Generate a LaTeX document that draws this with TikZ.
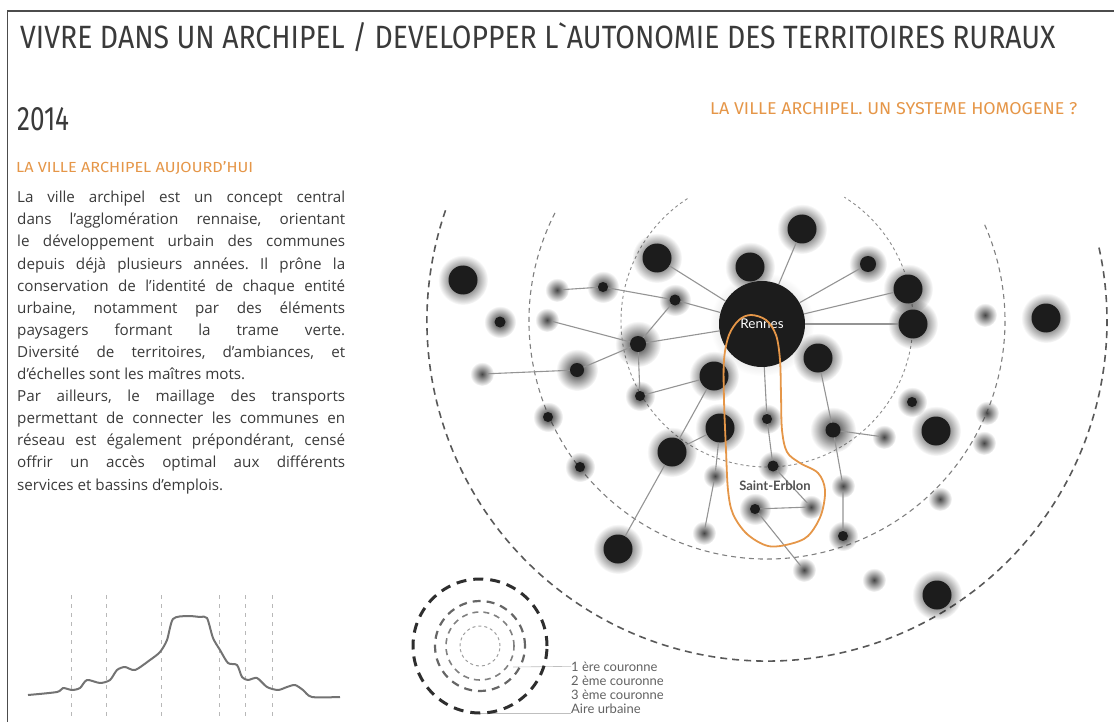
\documentclass[tikz,border=0pt]{standalone}
\usepackage{fontspec}
\usepackage{graphicx}
\setmainfont{Lato}
\newfontfamily\titrefont{Fira Sans}
\newfontfamily\corpsfont{Open Sans}
\usetikzlibrary{fadings,backgrounds}
\definecolor{encre}{RGB}{28,28,28}
\definecolor{orangeville}{RGB}{229,150,72}
\definecolor{texte}{RGB}{58,58,58}
\tikzfading[name=brume, inner color=transparent!0, outer color=transparent!100]
\frenchspacing

\begin{document}
\begin{tikzpicture}[x=1pt,y=-1pt,
  ville/.style={circle,fill=encre,inner sep=0pt,minimum size=86pt,text=white,
                font=\fontsize{13.5}{13.5}\selectfont},
  pole/.style={circle,fill=encre,inner sep=0pt,minimum size=29pt},
  bourg/.style={circle,fill=encre,inner sep=0pt,minimum size=10pt},
  hameau/.style={circle,inner sep=0pt,minimum size=10pt},
  lien/.style={draw=black!42,line width=1.1pt},
  cour1/.style={draw=black!45,line width=0.9pt,dash pattern=on 3pt off 3pt},
  cour2/.style={draw=black!50,line width=1.1pt,dash pattern=on 5pt off 4pt},
  cour3/.style={draw=black!65,line width=1.6pt,dash pattern=on 7pt off 5pt},
  legende/.style={font=\fontsize{13}{13}\selectfont,text=black!62,inner sep=0pt,anchor=base west},
  fil/.style={draw=black!25,line width=0.6pt}
]
\useasboundingbox (0,0) rectangle (1114,722);
% cadre
\draw[black!70,line width=1.5pt] (7.5,722) -- (7.5,11) -- (1114,11);

% titres
\node[anchor=north west,inner sep=0pt,text=texte] (titre) at (20,22)
  {\resizebox{1035pt}{26pt}{\titrefont VIVRE DANS UN ARCHIPEL / DEVELOPPER L\textasciigrave AUTONOMIE DES TERRITOIRES RURAUX}};
\node[anchor=base west,inner sep=0pt,text=texte] (annee) at (17,131)
  {\resizebox{52pt}{23pt}{\titrefont 2014}};
\node[anchor=base west,inner sep=0pt,text=orangeville] (sous) at (16,173)
  {\resizebox{237pt}{11pt}{\titrefont LA VILLE ARCHIPEL AUJOURD’HUI}};
\node[anchor=base west,inner sep=0pt,text=orangeville] (question) at (710,115)
  {\resizebox{367pt}{12pt}{\titrefont LA VILLE ARCHIPEL. UN SYSTEME HOMOGENE ?}};

% texte
\node[anchor=north west,inner sep=0pt,text=texte,align=left,
      font=\corpsfont\fontsize{15.2}{22.1}\selectfont] (corps) at (17,191) {%
\makebox[328pt][s]{La ville archipel est un concept central}\\
\makebox[328pt][s]{dans l’agglomération rennaise, orientant}\\
\makebox[328pt][s]{le développement urbain des communes}\\
\makebox[328pt][s]{depuis déjà plusieurs années. Il prône la}\\
\makebox[328pt][s]{conservation de l’identité de chaque entité}\\
\makebox[328pt][s]{urbaine, notamment par des éléments}\\
\makebox[328pt][s]{paysagers formant la trame verte.}\\
\makebox[328pt][s]{Diversité de territoires, d’ambiances, et}\\
\makebox[328pt][l]{d’échelles sont les maîtres mots.}\\
\makebox[328pt][s]{Par ailleurs, le maillage des transports}\\
\makebox[328pt][s]{permettant de connecter les communes en}\\
\makebox[328pt][s]{réseau est également prépondérant, censé}\\
\makebox[328pt][s]{offrir un accès optimal aux différents}\\
\makebox[328pt][l]{services et bassins d’emplois.}};

% profil
\foreach \x in {71,106,161,219,245,272}
  \draw[black!28,line width=0.8pt,dash pattern=on 4pt off 5pt] (\x,595) -- (\x,717);
\draw[black!55,line width=2pt,line join=round] plot[smooth,tension=0.45] coordinates {
  (28,695) (57,692) (63,688) (72,690) (80,688) (87,680) (100,683) (110,680)
  (117,670) (125,667) (135,670) (150,660) (160,652) (167,640) (173,619)
  (187,616) (200,617) (207,618) (213,638) (220,650) (228,663) (237,665)
  (242,677) (248,680) (257,678) (267,687) (278,690) (287,687) (295,685)
  (303,690) (312,697) (340,697)};

% communes
\node[ville] (rennes) at (762,324) {Rennes};
\node[pole] (b1)  at (463,280) {};
\node[pole] (b2)  at (657,258) {};
\node[pole] (b3)  at (750,267) {};
\node[pole] (b4)  at (802,229) {};
\node[pole] (b5)  at (908,289) {};
\node[pole] (b6)  at (913,324) {};
\node[pole] (b7)  at (1046,318) {};
\node[pole] (b8)  at (818,358) {};
\node[pole] (b9)  at (714,376) {};
\node[pole] (b10) at (720,428) {};
\node[pole] (b11) at (672,452) {};
\node[pole] (b12) at (618,549) {};
\node[pole] (b13) at (936,431) {};
\node[pole] (b14) at (937,595) {};
\node[bourg] (m1)  at (603,287) {};
\node[bourg,minimum size=11pt] (m2)  at (675,300) {};
\node[bourg,minimum size=16pt] (m3)  at (868,264) {};
\node[bourg,minimum size=11pt] (m4)  at (500,322) {};
\node[bourg,minimum size=16pt] (m5)  at (638,344) {};
\node[bourg,minimum size=14pt] (m6)  at (577,370) {};
\node[bourg] (m7)  at (640,396) {};
\node[bourg] (m8)  at (548,417) {};
\node[bourg] (m9)  at (767,419) {};
\node[bourg] (m10) at (580,467) {};
\node[bourg,minimum size=11pt] (m11) at (773,466) {};
\node[bourg] (m12) at (755,509) {};
\node[bourg,minimum size=15pt] (m13) at (833,430) {};
\node[bourg] (m14) at (843,536) {};
\node[bourg] (m15) at (912,402) {};
\node[hameau] (g1)  at (557,290) {};
\node[hameau] (g2)  at (547,320) {};
\node[hameau] (g3)  at (482,374) {};
\node[hameau] (g4)  at (985,315) {};
\node[hameau] (g5)  at (715,476) {};
\node[hameau] (g6)  at (704,533) {};
\node[hameau] (g7)  at (811,507) {};
\node[hameau] (g8)  at (804,570) {};
\node[hameau] (g9)  at (884,437) {};
\node[hameau] (g10) at (843,486) {};
\node[hameau] (g11) at (874,580) {};
\node[hameau] (g12) at (940,499) {};
\node[hameau] (g13) at (987,413) {};
\node[hameau] (g14) at (984,443) {};

% maillage
\draw[lien] (g1) -- (m1) -- (m2) -- (rennes);
\draw[lien] (g2) -- (m5) -- (rennes);
\draw[lien] (g3) -- (m6) -- (m5) -- (m7) -- (b9);
\draw[lien] (m5) -- (m2);
\draw[lien] (b2) -- (rennes);
\draw[lien] (b4) -- (rennes);
\draw[lien] (m3) -- (rennes);
\draw[lien] (b5) -- (rennes);
\draw[lien] (b6) -- (rennes);
\draw[lien] (rennes) -- (m9) -- (m11) -- (g7) -- (m12) -- (g8);
\draw[lien] (b9) -- (b11) -- (b12);
\draw[lien] (b10) -- (b11);
\draw[lien] (b10) -- (g5) -- (g6);
\draw[lien] (b8) -- (m13) -- (g10) -- (m14);
\draw[lien] (m13) -- (g9);

% Saint-Erblon
\draw[orangeville,line width=1.8pt] plot[smooth cycle,tension=0.55] coordinates {
  (751,315) (766,320) (776,335) (780,360) (781,395) (782,430) (787,452)
  (800,463) (818,473) (825,490) (821,515) (808,536) (790,544) (768,546)
  (747,534) (733,514) (728,490) (726,450) (724,400) (724,360) (729,335) (739,320)};
\node[font=\bfseries\fontsize{13}{13}\selectfont,text=black!68,inner sep=0pt,anchor=base]
  (erblon) at (775,490) {Saint-Erblon};

% legende
\coordinate (leg) at (480,646);
\draw[draw=black!82,line width=3pt,dash pattern=on 10pt off 7pt] (leg) circle (67pt);
\draw[draw=black!60,line width=2.2pt,dash pattern=on 8pt off 6pt] (leg) circle (45pt);
\draw[draw=black!50,line width=1.6pt,dash pattern=on 6pt off 5pt] (leg) circle (34pt);
\draw[draw=black!38,line width=1pt,dash pattern=on 3pt off 3pt] (leg) circle (20pt);
\node[legende] (l1) at (571,671) {1 ère couronne};
\node[legende] (l2) at (571,685) {2 ème couronne};
\node[legende] (l3) at (571,699) {3 ème couronne};
\node[legende] (l4) at (571,713) {Aire urbaine};
\coordinate (p1) at (513,667);
\coordinate (p4) at (480,713);

\begin{scope}[on background layer]
  \draw[fil] (p1) -- (l1.west);
  \draw[fil] (p4) -- (l4.base west);
  % couronnes
  \coordinate (ctr) at (767,321);
  \draw[cour1] (ctr) ++(123:146pt) arc[start angle=123,end angle=418,radius=146pt];
  \draw[cour2] (ctr) ++(153:238pt) arc[start angle=153,end angle=384,radius=238pt];
  \draw[cour3] (ctr) ++(161:340pt) arc[start angle=161,end angle=373,radius=340pt];
  % halos
  \fill[black!35,path fading=brume] (rennes) circle (52pt);
  \foreach \n in {b1,b2,b3,b4,b5,b6,b7,b8,b9,b10,b11,b12,b13,b14}
    \fill[black!92,path fading=brume] (\n) circle (25pt);
  \foreach \n/\r in {m1/16,m2/16,m3/19,m4/16,m5/23,m6/21,m7/15,m8/15,m9/15,
                     m10/15,m11/15,m12/16,m13/23,m14/15,m15/15}
    \fill[black!82,path fading=brume] (\n) circle ({\r pt});
  \foreach \n in {g1,g2,g3,g4,g5,g6,g7,g8,g9,g10,g11,g12,g13,g14}
    \fill[black!72,path fading=brume] (\n) circle (12pt);
\end{scope}
\end{tikzpicture}
\end{document}
